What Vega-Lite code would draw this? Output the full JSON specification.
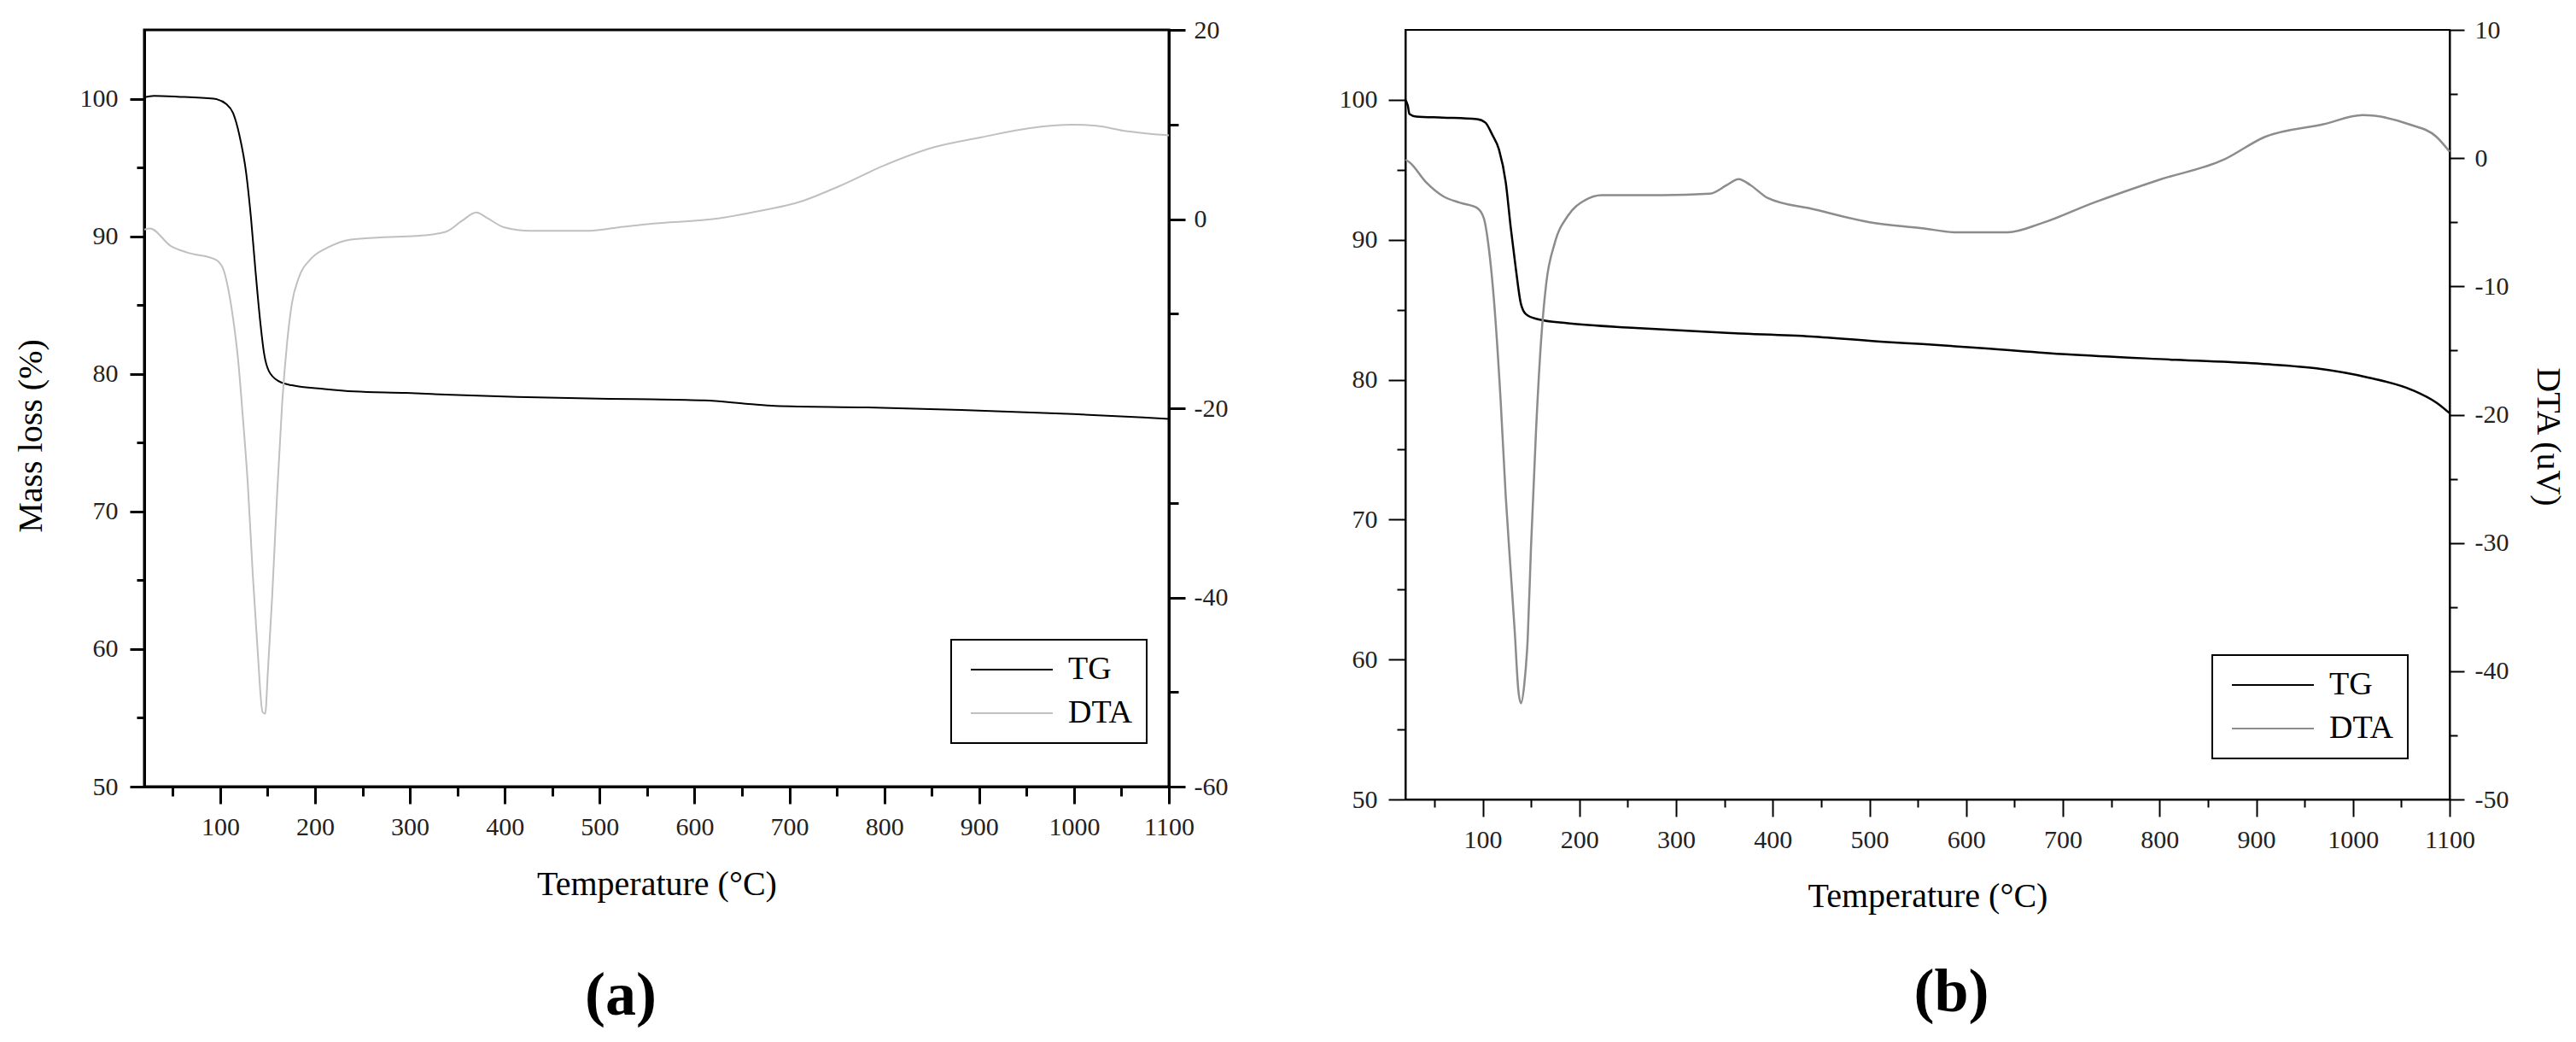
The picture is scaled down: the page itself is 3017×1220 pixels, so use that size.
{
  "$schema": "https://vega.github.io/schema/vega-lite/v6.json",
  "padding": {"left": 14, "top": 18, "right": 5, "bottom": 5},
  "background": "white",
  "data": {"values": [
    {"p":"a","s":"TG","T":20,"v":100.1},{"p":"a","s":"TG","T":30,"v":100.2},{"p":"a","s":"TG","T":55,"v":100.15},{"p":"a","s":"TG","T":93,"v":100.0},{"p":"a","s":"TG","T":106.7,"v":99.6},{"p":"a","s":"TG","T":113.6,"v":98.95},{"p":"a","s":"TG","T":120.4,"v":97.3},{"p":"a","s":"TG","T":127.4,"v":94.6},{"p":"a","s":"TG","T":132.5,"v":91.3},{"p":"a","s":"TG","T":137,"v":87.65},{"p":"a","s":"TG","T":141.9,"v":84.0},{"p":"a","s":"TG","T":146.3,"v":81.47},{"p":"a","s":"TG","T":151.4,"v":80.19},{"p":"a","s":"TG","T":161.8,"v":79.46},{"p":"a","s":"TG","T":175.6,"v":79.17},{"p":"a","s":"TG","T":210,"v":78.9},{"p":"a","s":"TG","T":241,"v":78.72},{"p":"a","s":"TG","T":296,"v":78.61},{"p":"a","s":"TG","T":344,"v":78.47},{"p":"a","s":"TG","T":413,"v":78.32},{"p":"a","s":"TG","T":510,"v":78.18},{"p":"a","s":"TG","T":554,"v":78.15},{"p":"a","s":"TG","T":610,"v":78.07},{"p":"a","s":"TG","T":657,"v":77.81},{"p":"a","s":"TG","T":685,"v":77.67},{"p":"a","s":"TG","T":781,"v":77.56},{"p":"a","s":"TG","T":881,"v":77.38},{"p":"a","s":"TG","T":999,"v":77.08},{"p":"a","s":"TG","T":1073,"v":76.83},{"p":"a","s":"TG","T":1100,"v":76.72},
    {"p":"a","s":"DTA","T":20,"v":-1.1},{"p":"a","s":"DTA","T":26,"v":-1.0},{"p":"a","s":"DTA","T":48,"v":-2.85},{"p":"a","s":"DTA","T":65,"v":-3.53},{"p":"a","s":"DTA","T":95,"v":-4.28},{"p":"a","s":"DTA","T":103,"v":-5.23},{"p":"a","s":"DTA","T":108.4,"v":-7.35},{"p":"a","s":"DTA","T":113.6,"v":-10.5},{"p":"a","s":"DTA","T":118.8,"v":-14.8},{"p":"a","s":"DTA","T":124,"v":-21.1},{"p":"a","s":"DTA","T":129.1,"v":-28.0},{"p":"a","s":"DTA","T":134.3,"v":-37.5},{"p":"a","s":"DTA","T":139.4,"v":-45.5},{"p":"a","s":"DTA","T":144.6,"v":-52.1},{"p":"a","s":"DTA","T":147.4,"v":-52.3},{"p":"a","s":"DTA","T":150.4,"v":-47.6},{"p":"a","s":"DTA","T":154.9,"v":-39.7},{"p":"a","s":"DTA","T":160,"v":-29.1},{"p":"a","s":"DTA","T":165.3,"v":-19.5},{"p":"a","s":"DTA","T":170.4,"v":-13.2},{"p":"a","s":"DTA","T":175.6,"v":-8.9},{"p":"a","s":"DTA","T":182.5,"v":-6.3},{"p":"a","s":"DTA","T":196,"v":-4.17},{"p":"a","s":"DTA","T":213.5,"v":-3.0},{"p":"a","s":"DTA","T":237.6,"v":-2.16},{"p":"a","s":"DTA","T":268.6,"v":-1.94},{"p":"a","s":"DTA","T":306.5,"v":-1.79},{"p":"a","s":"DTA","T":337.5,"v":-1.36},{"p":"a","s":"DTA","T":354.7,"v":-0.2},{"p":"a","s":"DTA","T":370,"v":0.7},{"p":"a","s":"DTA","T":382,"v":0.07},{"p":"a","s":"DTA","T":399.5,"v":-0.88},{"p":"a","s":"DTA","T":427,"v":-1.25},{"p":"a","s":"DTA","T":485.6,"v":-1.25},{"p":"a","s":"DTA","T":520,"v":-0.88},{"p":"a","s":"DTA","T":554,"v":-0.5},{"p":"a","s":"DTA","T":625,"v":0.07},{"p":"a","s":"DTA","T":660.5,"v":0.7},{"p":"a","s":"DTA","T":714,"v":1.92},{"p":"a","s":"DTA","T":753,"v":3.5},{"p":"a","s":"DTA","T":799,"v":5.63},{"p":"a","s":"DTA","T":852.6,"v":7.6},{"p":"a","s":"DTA","T":902.5,"v":8.65},{"p":"a","s":"DTA","T":952,"v":9.6},{"p":"a","s":"DTA","T":998.7,"v":9.98},{"p":"a","s":"DTA","T":1023.6,"v":9.87},{"p":"a","s":"DTA","T":1052,"v":9.35},{"p":"a","s":"DTA","T":1100,"v":8.85},
    {"p":"b","s":"TG","T":20,"v":100.0},{"p":"b","s":"TG","T":22.5,"v":99.6},{"p":"b","s":"TG","T":24.2,"v":98.98},{"p":"b","s":"TG","T":31.2,"v":98.8},{"p":"b","s":"TG","T":59,"v":98.73},{"p":"b","s":"TG","T":94,"v":98.62},{"p":"b","s":"TG","T":102.8,"v":98.37},{"p":"b","s":"TG","T":109.7,"v":97.53},{"p":"b","s":"TG","T":116.8,"v":96.45},{"p":"b","s":"TG","T":123.8,"v":94.1},{"p":"b","s":"TG","T":129,"v":90.84},{"p":"b","s":"TG","T":134.2,"v":87.94},{"p":"b","s":"TG","T":139.5,"v":85.41},{"p":"b","s":"TG","T":144.7,"v":84.68},{"p":"b","s":"TG","T":156.9,"v":84.32},{"p":"b","s":"TG","T":188.3,"v":84.03},{"p":"b","s":"TG","T":258.2,"v":83.7},{"p":"b","s":"TG","T":352.5,"v":83.34},{"p":"b","s":"TG","T":439.8,"v":83.09},{"p":"b","s":"TG","T":518.3,"v":82.69},{"p":"b","s":"TG","T":554.3,"v":82.55},{"p":"b","s":"TG","T":618,"v":82.25},{"p":"b","s":"TG","T":703,"v":81.82},{"p":"b","s":"TG","T":816.8,"v":81.42},{"p":"b","s":"TG","T":905.4,"v":81.13},{"p":"b","s":"TG","T":962.2,"v":80.81},{"p":"b","s":"TG","T":1015.5,"v":80.16},{"p":"b","s":"TG","T":1061.6,"v":79.25},{"p":"b","s":"TG","T":1086.4,"v":78.35},{"p":"b","s":"TG","T":1100,"v":77.6},
    {"p":"b","s":"DTA","T":20,"v":-0.12},{"p":"b","s":"DTA","T":24.2,"v":-0.32},{"p":"b","s":"DTA","T":41.6,"v":-1.9},{"p":"b","s":"DTA","T":59,"v":-2.97},{"p":"b","s":"DTA","T":76.6,"v":-3.48},{"p":"b","s":"DTA","T":94,"v":-3.88},{"p":"b","s":"DTA","T":101,"v":-4.66},{"p":"b","s":"DTA","T":106.3,"v":-7.03},{"p":"b","s":"DTA","T":111.5,"v":-10.98},{"p":"b","s":"DTA","T":118.5,"v":-18.89},{"p":"b","s":"DTA","T":123.8,"v":-26.4},{"p":"b","s":"DTA","T":129,"v":-32.3},{"p":"b","s":"DTA","T":133.2,"v":-37.05},{"p":"b","s":"DTA","T":136.7,"v":-41.4},{"p":"b","s":"DTA","T":139.5,"v":-42.5},{"p":"b","s":"DTA","T":143,"v":-41.0},{"p":"b","s":"DTA","T":146.5,"v":-37.45},{"p":"b","s":"DTA","T":149.9,"v":-30.34},{"p":"b","s":"DTA","T":155.1,"v":-21.25},{"p":"b","s":"DTA","T":160.4,"v":-14.15},{"p":"b","s":"DTA","T":165.6,"v":-9.8},{"p":"b","s":"DTA","T":174.4,"v":-6.64},{"p":"b","s":"DTA","T":188.3,"v":-4.47},{"p":"b","s":"DTA","T":205.8,"v":-3.28},{"p":"b","s":"DTA","T":223.3,"v":-2.89},{"p":"b","s":"DTA","T":286,"v":-2.89},{"p":"b","s":"DTA","T":335,"v":-2.77},{"p":"b","s":"DTA","T":352.5,"v":-2.1},{"p":"b","s":"DTA","T":364.7,"v":-1.63},{"p":"b","s":"DTA","T":376.9,"v":-2.1},{"p":"b","s":"DTA","T":394.4,"v":-3.09},{"p":"b","s":"DTA","T":443.3,"v":-4.0},{"p":"b","s":"DTA","T":499,"v":-4.98},{"p":"b","s":"DTA","T":554.3,"v":-5.46},{"p":"b","s":"DTA","T":589.8,"v":-5.78},{"p":"b","s":"DTA","T":643,"v":-5.78},{"p":"b","s":"DTA","T":678.5,"v":-5.06},{"p":"b","s":"DTA","T":731.7,"v":-3.48},{"p":"b","s":"DTA","T":799,"v":-1.7},{"p":"b","s":"DTA","T":866.4,"v":-0.12},{"p":"b","s":"DTA","T":909,"v":1.66},{"p":"b","s":"DTA","T":969.3,"v":2.64},{"p":"b","s":"DTA","T":1010,"v":3.35},{"p":"b","s":"DTA","T":1058,"v":2.64},{"p":"b","s":"DTA","T":1086.4,"v":1.66},{"p":"b","s":"DTA","T":1100,"v":0.5}
  ]},
  "hconcat": [
    {
      "width": 1200,
      "height": 886,
      "view": {"stroke": "black", "strokeWidth": 3},
      "title": {"text": "(a)", "orient": "bottom", "frame": "bounds", "anchor": "middle", "fontSize": 72, "fontWeight": "bold", "font": "Liberation Serif", "color": "black", "offset": 76},
      "encoding": {
        "x": {"field": "T", "type": "quantitative", "scale": {"domain": [20, 1100], "nice": false, "zero": false},
          "axis": {"values": [50,100,150,200,250,300,350,400,450,500,550,600,650,700,750,800,850,900,950,1000,1050,1100],
            "labelExpr": "datum.value % 100 === 0 ? '' + datum.value : ''",
            "tickSize": {"condition": {"test": "datum.value % 100 === 0", "value": 20}, "value": 11},
            "tickWidth": 3, "domainWidth": 3, "labelPadding": 12,
            "title": "Temperature (°C)", "titleY": 126, "titleBaseline": "alphabetic"}}
      },
      "layer": [
        {
          "transform": [{"filter": "datum.p === 'a' && datum.s === 'TG'"}],
          "mark": {"type": "line", "strokeWidth": 2, "interpolate": "monotone"},
          "encoding": {
            "y": {"field": "v", "type": "quantitative", "scale": {"domain": [50, 105], "nice": false, "zero": false},
              "axis": {"orient": "left", "values": [50,55,60,65,70,75,80,85,90,95,100],
                "labelExpr": "datum.value % 10 === 0 ? '' + datum.value : ''",
                "tickSize": {"condition": {"test": "datum.value % 10 === 0", "value": 17}, "value": 9},
                "tickWidth": 3, "domainWidth": 3, "labelPadding": 14,
                "title": "Mass loss (%)", "titleX": -133, "titleY": 475, "titleBaseline": "middle", "titleAngle": -90}},
            "color": {"field": "s", "type": "nominal", "scale": {"domain": ["TG", "DTA"], "range": ["#000000", "#c0c0c0"]},
              "legend": {"orient": "none", "legendX": 945, "legendY": 714}}
          }
        },
        {
          "transform": [{"filter": "datum.p === 'a' && datum.s === 'DTA'"}],
          "mark": {"type": "line", "strokeWidth": 2, "interpolate": "monotone"},
          "encoding": {
            "y": {"field": "v", "type": "quantitative", "scale": {"domain": [-60, 20], "nice": false, "zero": false},
              "axis": {"orient": "right", "values": [-60,-50,-40,-30,-20,-10,0,10,20],
                "labelExpr": "datum.value % 20 === 0 ? '' + datum.value : ''",
                "tickSize": {"condition": {"test": "datum.value % 20 === 0", "value": 19}, "value": 11},
                "tickWidth": 3, "domainWidth": 3, "labelPadding": 10, "title": null}},
            "color": {"field": "s", "type": "nominal", "scale": {"domain": ["TG", "DTA"], "range": ["#000000", "#c0c0c0"]}}
          }
        }
      ],
      "resolve": {"scale": {"y": "independent"}}
    },
    {
      "width": 1223,
      "height": 901,
      "view": {"stroke": "black", "strokeWidth": 2},
      "title": {"text": "(b)", "orient": "bottom", "frame": "bounds", "anchor": "middle", "fontSize": 72, "fontWeight": "bold", "font": "Liberation Serif", "color": "black", "offset": 58},
      "encoding": {
        "x": {"field": "T", "type": "quantitative", "scale": {"domain": [20, 1100], "nice": false, "zero": false},
          "axis": {"values": [50,100,150,200,250,300,350,400,450,500,550,600,650,700,750,800,850,900,950,1000,1050,1100],
            "labelExpr": "datum.value % 100 === 0 ? '' + datum.value : ''",
            "tickSize": {"condition": {"test": "datum.value % 100 === 0", "value": 20}, "value": 9},
            "tickWidth": 2, "domainWidth": 2, "labelPadding": 12,
            "title": "Temperature (°C)", "titleY": 125, "titleBaseline": "alphabetic"}}
      },
      "layer": [
        {
          "transform": [{"filter": "datum.p === 'b' && datum.s === 'TG'"}],
          "mark": {"type": "line", "strokeWidth": 2.5, "interpolate": "monotone"},
          "encoding": {
            "y": {"field": "v", "type": "quantitative", "scale": {"domain": [50, 105], "nice": false, "zero": false},
              "axis": {"orient": "left", "values": [50,55,60,65,70,75,80,85,90,95,100],
                "labelExpr": "datum.value % 10 === 0 ? '' + datum.value : ''",
                "tickSize": {"condition": {"test": "datum.value % 10 === 0", "value": 20}, "value": 10},
                "tickWidth": 2, "domainWidth": 2, "labelPadding": 13, "title": null}},
            "color": {"field": "s", "type": "nominal", "scale": {"domain": ["TG", "DTA"], "range": ["#000000", "#8c8c8c"]},
              "legend": {"orient": "none", "legendX": 945, "legendY": 732,
                "encode": {"symbols": {"update": {"stroke": [{"test": "datum.value === 'DTA'", "value": "#c0c0c0"}, {"value": "#000000"}]}}}}}
          }
        },
        {
          "transform": [{"filter": "datum.p === 'b' && datum.s === 'DTA'"}],
          "mark": {"type": "line", "strokeWidth": 2.5, "interpolate": "monotone"},
          "encoding": {
            "y": {"field": "v", "type": "quantitative", "scale": {"domain": [-50, 10], "nice": false, "zero": false},
              "axis": {"orient": "right", "values": [-50,-45,-40,-35,-30,-25,-20,-15,-10,-5,0,5,10],
                "labelExpr": "datum.value % 10 === 0 ? '' + datum.value : ''",
                "tickSize": {"condition": {"test": "datum.value % 10 === 0", "value": 17}, "value": 9},
                "tickWidth": 2, "domainWidth": 2, "labelPadding": 12,
                "title": "DTA (uV)", "titleX": 114, "titleY": 476, "titleBaseline": "middle", "titleAngle": 90}},
            "color": {"field": "s", "type": "nominal", "scale": {"domain": ["TG", "DTA"], "range": ["#000000", "#8c8c8c"]}}
          }
        }
      ],
      "resolve": {"scale": {"y": "independent"}}
    }
  ],
  "spacing": 127,
  "resolve": {"scale": {"x": "independent", "y": "independent", "color": "independent"}, "legend": {"color": "independent"}},
  "config": {
    "font": "Liberation Serif",
    "axis": {"labelFont": "Liberation Serif", "titleFont": "Liberation Serif", "labelFontSize": 30, "titleFontSize": 40, "titleFontWeight": "normal", "labelColor": "#222222", "titleColor": "#000000", "domainColor": "#000000", "tickColor": "#000000", "grid": false, "labelOverlap": false, "labelFlush": false, "labelBound": false},
    "legend": {"title": null, "direction": "vertical", "symbolType": "M-1,0H7", "symbolSize": 576, "symbolStrokeWidth": 2, "labelFont": "Liberation Serif", "labelFontSize": 38, "labelColor": "#000000", "labelOffset": 83, "padding": 16, "rowPadding": 13, "strokeColor": "#000000", "strokeWidth": 2, "fillColor": "white", "labelLimit": 0}
  }
}
